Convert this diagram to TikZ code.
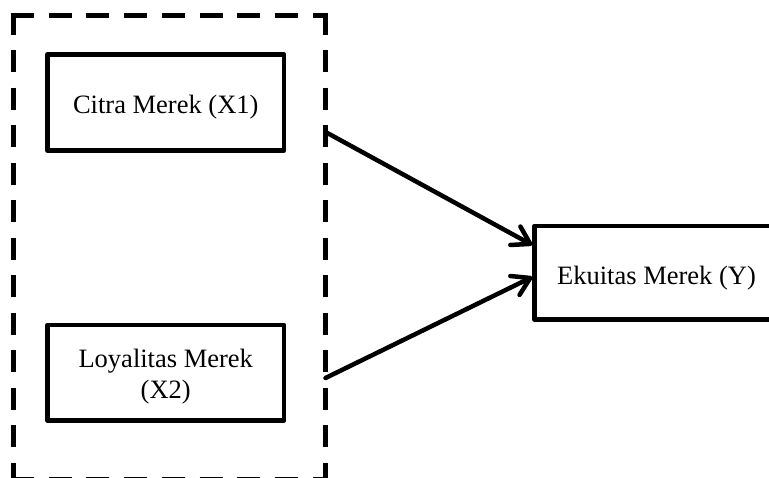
\documentclass[tikz,border=0pt]{standalone}
\usepackage{fontspec}
\setmainfont{Liberation Serif}
\usetikzlibrary{arrows.meta}
\begin{document}
\begin{tikzpicture}[x=1pt,y=-1pt,
  box/.style={draw, line width=4.5pt, line join=round, inner sep=0pt, outer sep=2.25pt},
  lbl/.style={anchor=base, inner sep=0pt, font=\fontsize{26.5}{32}\selectfont},
  dashv/.style={line width=5.5pt, dash pattern=on 22pt off 15.5pt},
  dashh/.style={line width=5.5pt, dash pattern=on 23pt off 14.75pt},
  conn/.style={line width=4.5pt, line cap=round, -{Straight Barb[length=17pt,width=21pt,round]}}]
\useasboundingbox (0,0) rectangle (769,478);
\clip (0,0) rectangle (769,478);
% dashed group frame
\node[minimum width=312pt, minimum height=464pt, inner sep=0pt, outer sep=0pt] (grp) at (169.5,247.5) {};
\draw[dashh] ([xshift=-2.75pt]grp.north west) -- ([xshift=2.75pt]grp.north east);
\draw[dashh] ([xshift=-2.75pt]grp.south west) -- ([xshift=2.75pt]grp.south east);
\draw[dashv] ([yshift=2.75pt]grp.north west) -- ([yshift=-2.75pt]grp.south west);
\draw[dashv] ([yshift=2.75pt]grp.north east) -- ([yshift=-2.75pt]grp.south east);
% boxes
\node[box, minimum width=236.5pt, minimum height=96pt] (x1) at (165.75,102.5) {};
\node[lbl] (t1) at (165.75,114) {Citra Merek (X1)};
\node[box, minimum width=236.5pt, minimum height=95.5pt] (x2) at (165.75,372.75) {};
\node[lbl] (t2a) at (165.75,367.3) {Loyalitas Merek};
\node[lbl] (t2b) at (165.75,398.5) {(X2)};
\node[box, minimum width=243pt, minimum height=93.5pt] (y) at (656,272.75) {};
\node[lbl] (t3) at (656.5,284.3) {Ekuitas Merek (Y)};
% connectors
\draw[conn] ([yshift=115.5pt]grp.east) -- ([yshift=27.75pt]y.west);
\draw[conn] ([yshift=-130.5pt]grp.east) -- ([yshift=-4.25pt]y.west);
\end{tikzpicture}
\end{document}
